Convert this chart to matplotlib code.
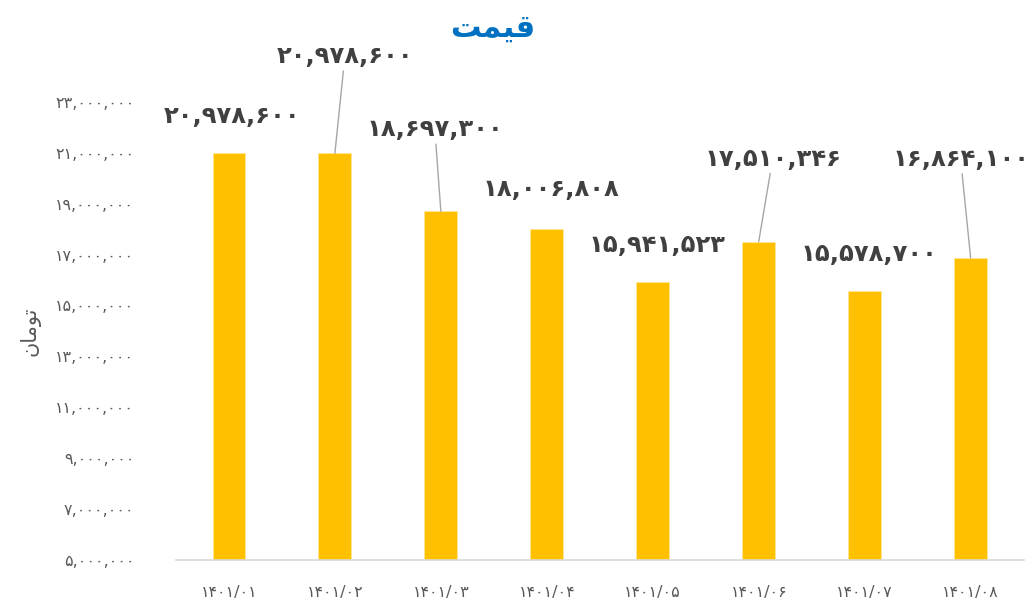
import matplotlib
matplotlib.use('Agg')
import matplotlib.pyplot as plt
import numpy as np

plt.rcParams['font.family'] = ['DejaVu Sans']

# data
MONTHS = ['1401/01', '1401/02', '1401/03', '1401/04',
          '1401/05', '1401/06', '1401/07', '1401/08']
PRICES = [20978600, 20978600, 18697300, 18006808,
          15941523, 17510346, 15578700, 16864100]
Y_TICKS = [5000000, 7000000, 9000000, 11000000, 13000000,
           15000000, 17000000, 19000000, 21000000, 23000000]
# label offsets from the bar top (pixels) and whether a leader line is drawn
LABEL_OFFSETS = [(3, 37), (10, 97), (-6, 82), (4, 40),
                 (4, 37), (14, 83), (4, 37), (-10, 99)]
LEADERS = [False, True, True, False, False, True, False, True]

# titles pre-shaped with Arabic presentation forms (visual order)
TITLE = '\uFE96\uFEE4\uFEF4\uFED7'          # قیمت
Y_LABEL = '\uFEE5\uFE8E\uFEE3\uFEEE\uFE97'   # تومان

FA = str.maketrans('0123456789', '۰۱۲۳۴۵۶۷۸۹')


def fa(s):
    return str(s).translate(FA)


BAR = '#FFC000'
TXT = '#404040'
TICK = '#595959'

fig = plt.figure(figsize=(10.35, 6.02), dpi=100)
ax = fig.add_axes([0.170, 0.0698, 0.819, 0.761])

x = np.arange(len(MONTHS))
ax.bar(x, PRICES, width=0.31, color=BAR, edgecolor='#FFE699', linewidth=0.6)

ax.set_xlim(-0.5, len(MONTHS) - 0.5)
ax.set_ylim(Y_TICKS[0], Y_TICKS[-1])
ax.set_yticks(Y_TICKS)
ax.set_yticklabels([fa(f'{v:,}') for v in Y_TICKS], color=TICK, fontsize=11.5)
ax.set_xticks(x)
ax.set_xticklabels([fa(m) for m in MONTHS], color=TICK, fontsize=11.5)
ax.tick_params(axis='y', length=0, pad=30)
ax.tick_params(axis='x', length=0, pad=18)

for s in ['top', 'right', 'left']:
    ax.spines[s].set_visible(False)
ax.spines['bottom'].set_color('#D9D9D9')
ax.spines['bottom'].set_linewidth(1.2)

for xi, v, off, lead in zip(x, PRICES, LABEL_OFFSETS, LEADERS):
    kw = {}
    if lead:
        kw['arrowprops'] = dict(arrowstyle='-', color='#A6A6A6', lw=1,
                                shrinkA=0, shrinkB=0)
    ax.annotate(fa(f'{v:,}'), xy=(xi, v), xytext=off,
                textcoords='offset pixels', ha='center', va='center',
                fontsize=17.5, fontweight='bold', color=TXT,
                annotation_clip=False, **kw)

ax.set_ylabel(Y_LABEL, color=TICK, fontsize=15, rotation=90)
ax.yaxis.set_label_coords(-0.16, 0.5)

fig.text(0.476, 0.953, TITLE, ha='center', va='center', fontsize=22,
         fontweight='bold', color='#0070C0')

plt.savefig('out.png', dpi=100)
plt.close()
